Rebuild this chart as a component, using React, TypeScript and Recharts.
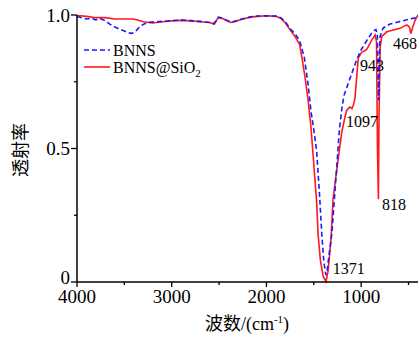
import { LineChart, Line, XAxis, YAxis, ReferenceDot } from "recharts";

const bnnsWn = [4000, 3950, 3900, 3850, 3800, 3750, 3700, 3650, 3600, 3550, 3500, 3450, 3420, 3380, 3340, 3300, 3250, 3200, 3100, 3000, 2900, 2800, 2700, 2600, 2560, 2530, 2510, 2480, 2420, 2360, 2320, 2250, 2170, 2100, 2000, 1900, 1850, 1800, 1750, 1700, 1650, 1600, 1560, 1530, 1500, 1470, 1440, 1416, 1395, 1380, 1371, 1360, 1340, 1310, 1285, 1258, 1230, 1200, 1180, 1155, 1100, 1050, 1000, 940, 880, 845, 830, 820, 815, 810, 800, 770, 747, 695, 600, 500, 413, 400];
const bnnsT = [0.995, 0.99, 0.985, 0.988, 0.982, 0.986, 0.978, 0.965, 0.955, 0.947, 0.94, 0.933, 0.931, 0.94, 0.955, 0.965, 0.972, 0.974, 0.976, 0.979, 0.981, 0.979, 0.976, 0.972, 0.968, 0.978, 0.992, 0.99, 0.98, 0.974, 0.978, 0.986, 0.993, 0.996, 0.997, 0.996, 0.99, 0.975, 0.948, 0.93, 0.905, 0.84, 0.74, 0.64, 0.57, 0.49, 0.33, 0.18, 0.08, 0.04, 0.026, 0.04, 0.1, 0.18, 0.3, 0.43, 0.57, 0.66, 0.7, 0.725, 0.78, 0.83, 0.87, 0.905, 0.937, 0.946, 0.93, 0.75, 0.68, 0.8, 0.92, 0.95, 0.956, 0.966, 0.975, 0.984, 0.99, 0.998];

const sio2Wn = [4000, 3900, 3800, 3700, 3600, 3500, 3400, 3300, 3200, 3100, 3000, 2900, 2800, 2700, 2600, 2550, 2520, 2500, 2450, 2380, 2340, 2250, 2150, 2000, 1900, 1850, 1800, 1750, 1700, 1650, 1620, 1590, 1560, 1530, 1500, 1470, 1455, 1430, 1400, 1371, 1350, 1320, 1297, 1254, 1205, 1170, 1152, 1120, 1097, 1080, 1065, 1040, 1030, 995, 943, 888, 853, 838, 828, 818, 812, 800, 782, 729, 650, 590, 519, 490, 476, 455, 430, 400];
const sio2T = [0.998, 0.995, 0.99, 0.99, 0.985, 0.985, 0.985, 0.975, 0.97, 0.975, 0.978, 0.98, 0.978, 0.975, 0.972, 0.965, 0.985, 0.99, 0.985, 0.972, 0.975, 0.985, 0.993, 0.997, 0.995, 0.988, 0.97, 0.945, 0.92, 0.89, 0.83, 0.76, 0.68, 0.58, 0.44, 0.3, 0.18, 0.08, 0.02, 0.002, 0.04, 0.15, 0.31, 0.43, 0.56, 0.62, 0.644, 0.655, 0.65, 0.665, 0.69, 0.8, 0.84, 0.86, 0.87, 0.906, 0.925, 0.9, 0.5, 0.31, 0.6, 0.88, 0.92, 0.937, 0.945, 0.95, 0.963, 0.955, 0.93, 0.955, 0.981, 1.0];

const xTicks = [4000, 3500, 3000, 2500, 2000, 1500, 1000, 500];
const yTicks = [0, 0.25, 0.5, 0.75, 1];
const yTickLabels = ["0", "", "0.5", "", "1.0"];

// peak labels: anchor (left edge of text) in data units
const peakLabels = ["1371", "1097", "818", "943", "468"];
const peakWn = [1300, 1160, 780, 1012, 663];
const peakT = [0.052, 0.6, 0.29, 0.81, 0.895];

const bnnsData = bnnsWn.map((wn, i) => ({ wn, t: bnnsT[i] }));
const sio2Data = sio2Wn.map((wn, i) => ({ wn, t: sio2T[i] }));

const serif = "Liberation Serif, Times New Roman, serif";
const cjk = "Liberation Serif, Noto Sans CJK SC, serif";

const XTick = (props: any) => {
  const { x, y, payload } = props;
  const major = payload.value % 1000 === 0;
  return (
    <g>
      <line x1={x} x2={x} y1={y} y2={y + (major ? 5 : 3)} stroke="#000" strokeWidth={1.3} />
      {major && (
        <text x={x} y={y + 21} textAnchor="middle" fontSize={19} style={{ fontFamily: serif }} fill="#000">
          {payload.value}
        </text>
      )}
    </g>
  );
};

const YTick = (props: any) => {
  const { x, y, payload } = props;
  const idx = yTicks.indexOf(payload.value);
  const label = yTickLabels[idx];
  // bottom label sits a little higher so it does not collide with the x labels
  const ty = payload.value === 0 ? y - 5 : y;
  return (
    <g>
      <line x1={x} x2={x - (label ? 6 : 3)} y1={y} y2={y} stroke="#000" strokeWidth={1.3} />
      {label && (
        <text x={x - 7} y={ty} textAnchor="end" dominantBaseline="central" fontSize={19} style={{ fontFamily: serif }} fill="#000">
          {label}
        </text>
      )}
    </g>
  );
};

const PeakText = (text: string) => (props: any) => {
  const { viewBox } = props;
  const cx = viewBox.x + viewBox.width / 2;
  const cy = viewBox.y + viewBox.height / 2;
  return (
    <text x={cx} y={cy} textAnchor="start" dominantBaseline="central" fontSize={16} style={{ fontFamily: serif }} fill="#000">
      {text}
    </text>
  );
};

export default function App() {
  return (
    <div style={{ position: "absolute", left: 0, top: 0, width: 419, height: 338, background: "#fff", fontFamily: serif }}>
      <LineChart width={419} height={338} margin={{ top: 15, right: 1, bottom: 0, left: 0 }}>
        <XAxis
          dataKey="wn"
          type="number"
          domain={[400, 4000]}
          reversed
          ticks={xTicks}
          interval={0}
          allowDataOverflow
          height={56}
          tickSize={0}
          tickMargin={0}
          tickLine={false}
          tick={<XTick />}
          axisLine={{ stroke: "#000", strokeWidth: 1.5 }}
          label={{
            content: () => (
              <text x={247} y={330} textAnchor="middle" fontSize={18} style={{ fontFamily: cjk }} fill="#000">
                波数/(cm<tspan fontSize={11} dy={-7}>-1</tspan><tspan dy={7}>)</tspan>
              </text>
            ),
          }}
        />
        <XAxis xAxisId="top" orientation="top" type="number" domain={[400, 4000]} reversed height={0} tick={false} tickLine={false} axisLine={{ stroke: "#000", strokeWidth: 1.5 }} />
        <YAxis
          type="number"
          domain={[0, 1]}
          ticks={yTicks}
          interval={0}
          width={77}
          tickSize={0}
          tickMargin={0}
          tickLine={false}
          tick={<YTick />}
          axisLine={{ stroke: "#000", strokeWidth: 1.5 }}
          label={{
            content: () => (
              <text x={21} y={150} transform="rotate(-90 21 150)" textAnchor="middle" dominantBaseline="central" fontSize={18} style={{ fontFamily: cjk }} fill="#000">
                透射率
              </text>
            ),
          }}
        />
        <YAxis yAxisId="right" orientation="right" type="number" domain={[0, 1]} width={0} tick={false} tickLine={false} axisLine={{ stroke: "#000", strokeWidth: 1.5 }} />
        <Line data={sio2Data} dataKey="t" name="BNNS@SiO2" stroke="#ff1a1a" strokeWidth={1.6} dot={false} isAnimationActive={false} />
        <Line data={bnnsData} dataKey="t" name="BNNS" stroke="#1a1aff" strokeWidth={1.6} strokeDasharray="5 3" dot={false} isAnimationActive={false} />
        {peakLabels.map((p, i) => (
          <ReferenceDot key={p} x={peakWn[i]} y={peakT[i]} r={0} fill="none" stroke="none" label={{ content: PeakText(p) }} />
        ))}
      </LineChart>
      <svg width={140} height={40} style={{ position: "absolute", left: 80, top: 40 }}>
        <line x1={4} x2={30} y1={10} y2={10} stroke="#1a1aff" strokeWidth={1.6} strokeDasharray="5 3" />
        <text x={33} y={16} fontSize={16} style={{ fontFamily: serif }} fill="#000">BNNS</text>
        <line x1={4} x2={30} y1={27} y2={27} stroke="#ff1a1a" strokeWidth={1.6} />
        <text x={33} y={33} fontSize={16} style={{ fontFamily: serif }} fill="#000">
          BNNS@SiO<tspan fontSize={11} dy={4}>2</tspan>
        </text>
      </svg>
    </div>
  );
}
